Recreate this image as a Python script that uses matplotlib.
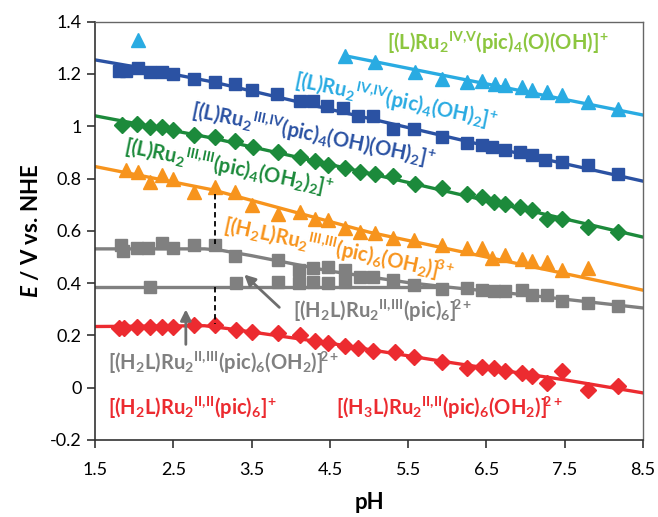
import matplotlib
matplotlib.use("Agg")
import matplotlib.pyplot as plt

plt.rcParams["font.family"] = ["Lato", "DejaVu Sans"]
plt.rcParams["mathtext.fontset"] = "custom"
plt.rcParams["mathtext.rm"] = "Lato:bold"
plt.rcParams["mathtext.bf"] = "Lato:bold"
plt.rcParams["mathtext.it"] = "Lato:bold:italic"
plt.rcParams["mathtext.default"] = "bf"

# --- data ---
cyan_ph = [2.05, 4.69, 5.08, 5.59, 5.93, 6.25, 6.44, 6.61, 6.74, 6.95, 7.08, 7.27, 7.46, 7.80, 8.18]
cyan_e = [1.331, 1.27, 1.245, 1.207, 1.181, 1.169, 1.175, 1.162, 1.156, 1.150, 1.137, 1.131, 1.118, 1.093, 1.067]

blue_ph = [1.80, 1.90, 2.05, 2.20, 2.35, 2.50, 2.76, 3.03, 3.29, 3.50, 3.82, 4.12, 4.29, 4.46, 4.67,
           4.86, 5.05, 5.31, 5.57, 5.93, 6.25, 6.44, 6.57, 6.74, 6.93, 7.08, 7.25, 7.46, 7.80, 8.18]
blue_e = [1.213, 1.213, 1.222, 1.209, 1.209, 1.200, 1.179, 1.169, 1.162, 1.140, 1.124, 1.098, 1.097, 1.077, 1.069,
          1.041, 1.041, 0.990, 0.990, 0.959, 0.937, 0.927, 0.920, 0.908, 0.901, 0.889, 0.870, 0.863, 0.850, 0.819]

green_ph = [1.84, 2.03, 2.20, 2.35, 2.50, 2.76, 3.03, 3.29, 3.52, 3.84, 4.12, 4.31, 4.48, 4.69, 4.88,
            5.08, 5.31, 5.59, 5.93, 6.25, 6.44, 6.59, 6.74, 6.93, 7.08, 7.27, 7.46, 7.80, 8.18]
green_e = [1.006, 1.009, 0.997, 0.997, 0.984, 0.965, 0.959, 0.942, 0.920, 0.901, 0.882, 0.866, 0.850, 0.840, 0.827,
           0.819, 0.810, 0.781, 0.765, 0.742, 0.730, 0.711, 0.704, 0.692, 0.679, 0.647, 0.647, 0.615, 0.596]

orange_ph = [1.90, 2.05, 2.20, 2.35, 2.50, 2.76, 3.03, 3.29, 3.50, 3.84, 4.12, 4.31, 4.48, 4.69,
             4.88, 5.08, 5.31, 5.57, 5.93, 6.25, 6.44, 6.57, 6.74, 6.95, 7.08, 7.27, 7.46, 7.80]
orange_e = [0.831, 0.825, 0.787, 0.812, 0.800, 0.749, 0.768, 0.749, 0.698, 0.666, 0.672, 0.647, 0.640, 0.609,
            0.596, 0.590, 0.573, 0.564, 0.545, 0.535, 0.535, 0.497, 0.507, 0.494, 0.484, 0.481, 0.450, 0.456]

gray_ph = [1.83, 1.86, 2.03, 2.18, 2.35, 2.49, 2.76, 3.03, 3.29, 2.20, 3.30, 3.84, 3.84,
           4.10, 4.10, 4.29, 4.29, 4.48, 4.48, 4.69, 4.69, 4.88, 5.05, 5.31, 5.57, 5.93,
           6.25, 6.44, 6.59, 6.74, 6.95, 7.08, 7.27, 7.46, 7.80, 8.18]
gray_e = [0.546, 0.521, 0.534, 0.534, 0.555, 0.534, 0.546, 0.546, 0.504, 0.387, 0.402, 0.490, 0.406,
          0.451, 0.400, 0.457, 0.406, 0.463, 0.400, 0.451, 0.406, 0.423, 0.423, 0.413, 0.394, 0.377,
          0.381, 0.374, 0.368, 0.368, 0.374, 0.355, 0.355, 0.330, 0.324, 0.311]

red_ph = [1.80, 1.87, 2.03, 2.20, 2.35, 2.50, 2.76, 3.03, 3.30, 3.50, 3.84, 4.12, 4.31, 4.48, 4.69,
          4.86, 5.05, 5.33, 5.57, 5.93, 6.25, 6.44, 6.59, 6.74, 6.95, 7.08, 7.27, 7.46, 7.80, 8.18]
red_e = [0.230, 0.230, 0.234, 0.234, 0.234, 0.234, 0.238, 0.241, 0.221, 0.213, 0.209, 0.202, 0.177, 0.171, 0.158,
         0.152, 0.139, 0.136, 0.119, 0.100, 0.075, 0.081, 0.075, 0.062, 0.056, 0.043, 0.018, 0.062, -0.008, 0.007]

# fitted Pourbaix lines (knots)
cyan_fit_ph = [4.69, 8.5]
cyan_fit_e = [1.27, 1.043]
blue_fit_ph = [1.5, 2.0, 3.0, 4.0, 5.0, 6.0, 7.0, 8.5]
blue_fit_e = [1.254, 1.228, 1.17, 1.10, 1.03, 0.96, 0.89, 0.79]
green_fit_ph = [1.5, 3.0, 5.0, 8.5]
green_fit_e = [1.04, 0.955, 0.82, 0.576]
orange_fit_ph = [1.5, 3.0, 5.0, 8.5]
orange_fit_e = [0.846, 0.757, 0.595, 0.373]
gray_up_fit_ph = [1.5, 2.9, 3.1, 3.5, 4.5, 5.5, 6.0, 7.0, 8.5]
gray_up_fit_e = [0.531, 0.531, 0.526, 0.505, 0.446, 0.402, 0.385, 0.355, 0.305]
gray_lo_fit_ph = [1.5, 6.0]
gray_lo_fit_e = [0.385, 0.385]
red_fit_ph = [1.5, 2.9, 3.2, 4.5, 6.0, 7.5, 8.5]
red_fit_e = [0.234, 0.237, 0.226, 0.170, 0.098, 0.030, -0.02]

C_CYAN = "#29abe2"
C_BLUE = "#2b52a3"
C_GREEN = "#1c8a3b"
C_ORANGE = "#f7941d"
C_GRAY = "#808080"
C_RED = "#ec2b30"
C_LGREEN = "#8cc63f"

fig = plt.figure(figsize=(6.58, 5.17), dpi=100)
ax = fig.add_axes([0.1444, 0.149, 0.8329, 0.809])

lw = 2.4
ax.plot(cyan_fit_ph, cyan_fit_e, color=C_CYAN, lw=lw)
ax.plot(blue_fit_ph, blue_fit_e, color=C_BLUE, lw=lw)
ax.plot(green_fit_ph, green_fit_e, color=C_GREEN, lw=lw)
ax.plot(orange_fit_ph, orange_fit_e, color=C_ORANGE, lw=lw)
ax.plot(gray_up_fit_ph, gray_up_fit_e, color=C_GRAY, lw=lw)
ax.plot(gray_lo_fit_ph, gray_lo_fit_e, color=C_GRAY, lw=lw)
ax.plot(red_fit_ph, red_fit_e, color=C_RED, lw=lw)

ax.plot(cyan_ph, cyan_e, "^", color=C_CYAN, ms=9.5, ls="none")
ax.plot(blue_ph, blue_e, "s", color=C_BLUE, ms=9, ls="none")
ax.plot(green_ph, green_e, "D", color=C_GREEN, ms=8, ls="none")
ax.plot(orange_ph, orange_e, "^", color=C_ORANGE, ms=9.5, ls="none")
ax.plot(gray_ph, gray_e, "s", color=C_GRAY, ms=9, ls="none")
ax.plot(red_ph, red_e, "D", color=C_RED, ms=8, ls="none")

# dashed guides at pH 3
ax.plot([3.03, 3.03], [0.74, 0.55], color="black", ls=(0, (3, 2)), lw=1.3)
ax.plot([3.03, 3.03], [0.385, 0.245], color="black", ls=(0, (3, 2)), lw=1.3)

# arrows
ax.annotate("", xy=(3.38, 0.44), xytext=(3.88, 0.30),
            arrowprops=dict(arrowstyle="-|>", color="#6e6e6e", lw=2, mutation_scale=16))
ax.annotate("", xy=(2.66, 0.31), xytext=(2.66, 0.155),
            arrowprops=dict(arrowstyle="-|>", color="#6e6e6e", lw=2, mutation_scale=16))

fs = 14.5
rot = -11.5
kw = dict(fontsize=fs, fontweight="bold", rotation_mode="anchor", ha="left", va="baseline")
ax.text(5.23, 1.292, r"[(L)Ru$_2$$^{IV{,}V}$(pic)$_4$(O)(OH)$]^{\!+}$", color=C_LGREEN, **kw)
ax.text(4.03, 1.15, r"[(L)Ru$_2$$^{IV{,}IV}$(pic)$_4$(OH)$_2]^{\!+}$", color=C_CYAN, rotation=rot, **kw)
ax.text(2.71, 1.035, r"[(L)Ru$_2$$^{III{,}IV}$(pic)$_4$(OH)(OH)$_2]^{\!+}$", color=C_BLUE, rotation=rot, **kw)
ax.text(1.86, 0.898, r"[(L)Ru$_2$$^{III{,}III}$(pic)$_4$(OH$_2$)$_2]^{\!+}$", color=C_GREEN, rotation=rot, **kw)
ax.text(3.13, 0.595, r"[(H$_2$L)Ru$_2$$^{III{,}III}$(pic)$_6$(OH$_2$)$]^{\!\!3+}$", color=C_ORANGE, rotation=-12, **kw)
ax.text(4.03, 0.267, r"[(H$_2$L)Ru$_2$$^{II{,}III}$(pic)$_6]^{\!\!2+}$", color=C_GRAY, **kw)
ax.text(1.67, 0.069, r"[(H$_2$L)Ru$_2$$^{II{,}III}$(pic)$_6$(OH$_2$)$]^{\!\!2+}$", color=C_GRAY, **kw)
ax.text(1.67, -0.103, r"[(H$_2$L)Ru$_2$$^{II{,}II}$(pic)$_6]^{\!+}$", color=C_RED, **kw)
ax.text(4.58, -0.103, r"[(H$_3$L)Ru$_2$$^{II{,}II}$(pic)$_6$(OH$_2$)$]^{\!\!2+}$", color=C_RED, **kw)

ax.set_xlim(1.5, 8.5)
ax.set_ylim(-0.2, 1.4)
ax.set_xticks([1.5, 2.5, 3.5, 4.5, 5.5, 6.5, 7.5, 8.5])
ax.set_xticklabels(["1.5", "2.5", "3.5", "4.5", "5.5", "6.5", "7.5", "8.5"])
ax.set_yticks([-0.2, 0, 0.2, 0.4, 0.6, 0.8, 1.0, 1.2, 1.4])
ax.set_yticklabels(["-0.2", "0", "0.2", "0.4", "0.6", "0.8", "1", "1.2", "1.4"])
ax.tick_params(axis="both", direction="out", length=6, width=1.2, labelsize=13, color="#333333")
ax.tick_params(axis="x", pad=10)
for side in ["left", "bottom"]:
    ax.spines[side].set_color("#333333")
    ax.spines[side].set_linewidth(1.2)
for side in ["top", "right"]:
    ax.spines[side].set_color("#666666")
    ax.spines[side].set_linewidth(1.0)

ax.set_xlabel("pH", fontsize=16, fontweight="bold", labelpad=10)
ax.set_ylabel(r"$\mathit{E}$ / V vs. NHE", fontsize=16, fontweight="bold", labelpad=6)

fig.savefig("out.png", dpi=100)
